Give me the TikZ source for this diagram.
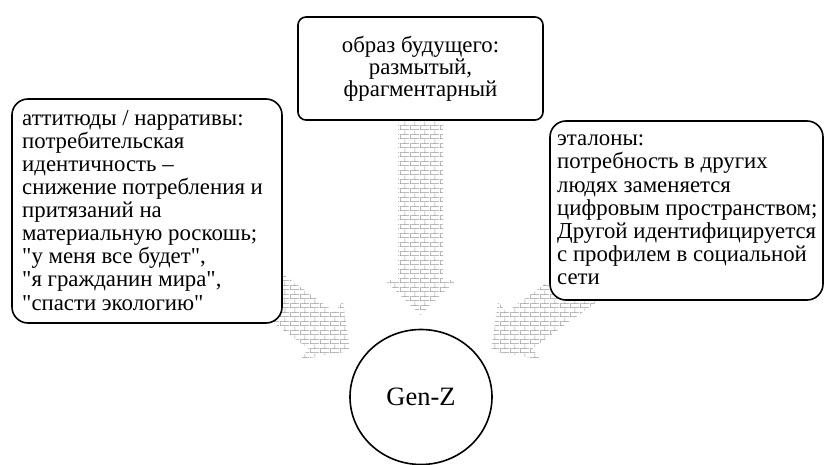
\documentclass[tikz,border=0pt]{standalone}
\usepackage{fontspec}
\setmainfont{Liberation Serif}
\usetikzlibrary{calc,patterns,shapes.geometric,backgrounds}
\definecolor{brickgray}{RGB}{150,150,150}
\pgfdeclarepatternformonly{smallbricks}{\pgfpointorigin}{\pgfpoint{10pt}{8.6pt}}{\pgfpoint{10pt}{8.6pt}}{%
  \pgfsetlinewidth{0.6pt}%
  \pgfpathmoveto{\pgfpoint{0pt}{0.3pt}}\pgfpathlineto{\pgfpoint{10pt}{0.3pt}}%
  \pgfpathmoveto{\pgfpoint{0pt}{4.6pt}}\pgfpathlineto{\pgfpoint{10pt}{4.6pt}}%
  \pgfpathmoveto{\pgfpoint{0.3pt}{0pt}}\pgfpathlineto{\pgfpoint{0.3pt}{4.6pt}}%
  \pgfpathmoveto{\pgfpoint{5.3pt}{4.6pt}}\pgfpathlineto{\pgfpoint{5.3pt}{8.9pt}}%
  \pgfusepath{stroke}%
}
\newcommand\blockarrow[2]{%
  \coordinate (bt) at (#1);
  \coordinate (bp) at (#2);
  \coordinate (bb) at ($(bp)!35pt!(bt)$);
  \fill[brickfill]
    ($(bt)!22.5pt!90:(bp)$) --
    ($(bb)!22.5pt!-90:(bt)$) --
    ($(bb)!36pt!-90:(bt)$) --
    (bp) --
    ($(bb)!36pt!90:(bt)$) --
    ($(bb)!22.5pt!90:(bt)$) --
    ($(bt)!22.5pt!-90:(bp)$) -- cycle;
}
\tikzset{
  brickfill/.style={pattern=smallbricks, pattern color=brickgray},
  boxshape/.style={draw, line width=1.6pt, fill=white, inner sep=0pt},
  boxtext/.style={inner sep=0pt, font=\fontsize{22.8}{23.1}\selectfont},
  genz/.style={draw, line width=1.6pt, fill=white, ellipse, inner sep=0pt,
    minimum width=142pt, minimum height=135pt, font=\fontsize{26.5}{30}\selectfont}
}
\begin{document}
\begin{tikzpicture}[x=1pt,y=-1pt]
\useasboundingbox (0,0) rectangle (825,465);
\node[boxshape, rounded corners=8pt, minimum width=245pt, minimum height=103pt]
  (top) at (420.5,68.5) {};
\node[boxtext, anchor=base, align=center, font=\fontsize{22.8}{22}\selectfont]
  (toptext) at (420.5,97) {образ будущего:\\размытый,\\фрагментарный};
\node[boxshape, rounded corners=16pt, minimum width=270pt, minimum height=224pt]
  (left) at (147,211) {};
\node[boxtext, anchor=base west, align=left]
  (lefttext) at (22,310) {аттитюды / нарративы:\\потребительская\\идентичность –\\снижение потребления и\\притязаний на\\материальную роскошь;\\\textquotedbl у меня все будет\textquotedbl,\\\textquotedbl я гражданин мира\textquotedbl,\\\textquotedbl спасти экологию\textquotedbl};
\node[boxshape, rounded corners=16pt, minimum width=273pt, minimum height=179pt]
  (right) at (686.5,210.5) {};
\node[boxtext, anchor=base west, align=left, font=\fontsize{22.8}{23.2}\selectfont]
  (righttext) at (557,285) {эталоны:\\потребность в других\\людях заменяется\\цифровым пространством;\\Другой идентифицируется\\с профилем в социальной\\сети};
\node[genz] (gz) at (421,397) {Gen-Z};
\coordinate (tipT) at (420.5,315);
\coordinate (tipL) at (350,351);
\coordinate (tailL) at (220.6,256.9);
\coordinate (tipR) at (491,351);
\coordinate (tailR) at (620.4,256.9);
\begin{scope}[on background layer]
\blockarrow{top.center}{tipT}
\blockarrow{tailL}{tipL}
\blockarrow{tailR}{tipR}
\end{scope}
\end{tikzpicture}
\end{document}
